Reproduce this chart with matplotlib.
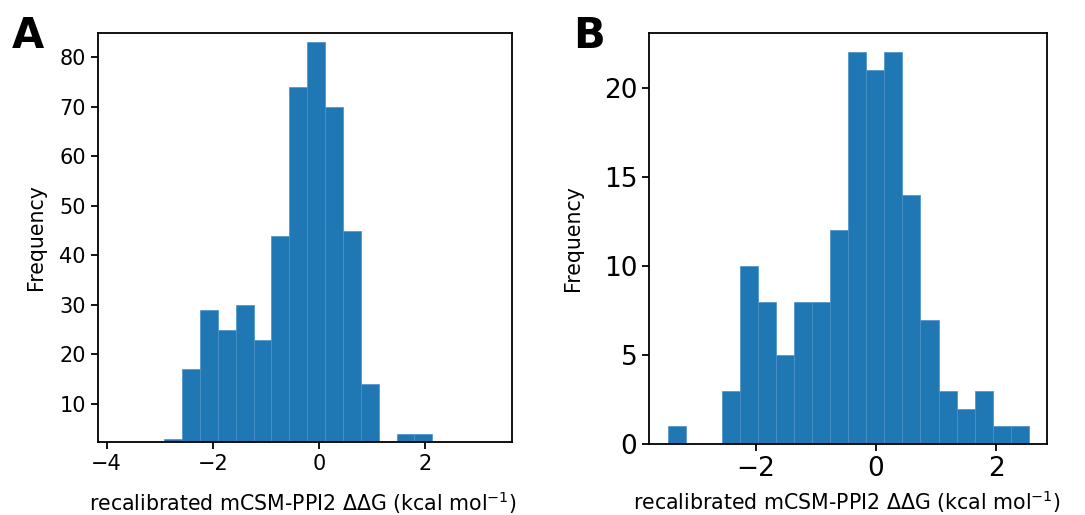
import numpy as np
import matplotlib
matplotlib.use("Agg")
import matplotlib.pyplot as plt

# panel A: visible histogram bins (left edge, width, count)
a_start = -2.916
a_width = 0.3367
a_counts = [3, 17, 29, 25, 30, 23, 44, 74, 83, 70, 45, 14, 0, 4, 4]

# panel B
b_start = -3.47
b_width = 0.3008
b_counts = [1, 0, 0, 3, 10, 8, 5, 8, 8, 12, 22, 21, 22, 14, 7, 3, 2, 3, 1, 1]

xlabel = "recalibrated mCSM-PPI2 \u0394\u0394G (kcal mol$^{-1}$)"
col = "#1f77b4"

fig = plt.figure(figsize=(10.85, 5.15), dpi=100)
axA = fig.add_axes([0.0900, 0.1423, 0.3816, 0.7930])
axB = fig.add_axes([0.5984, 0.1373, 0.3663, 0.7992])

def draw(ax, start, width, counts):
    edges = start + width * np.arange(len(counts) + 1)
    ax.bar(edges[:-1], counts, width=width, align="edge", color=col,
           edgecolor="#4a90c8", linewidth=0.5)
    for s in ax.spines.values():
        s.set_linewidth(1.3)
    ax.tick_params(width=1.3, length=5)

draw(axA, a_start, a_width, a_counts)
axA.set_xlim(-4.17, 3.63)
axA.set_ylim(2.4, 84.8)
axA.set_xticks([-4, -2, 0, 2])
axA.set_yticks([10, 20, 30, 40, 50, 60, 70, 80])
axA.tick_params(labelsize=15)
axA.set_xlabel(xlabel, fontsize=14.8)
axA.set_ylabel("Frequency", fontsize=14.8)
axA.xaxis.set_label_coords(0.497, -0.150)
axA.xaxis.label.set_va("center")
axA.yaxis.set_label_coords(-0.149, 0.5)
axA.yaxis.label.set_va("center")

draw(axB, b_start, b_width, b_counts)
axB.set_xlim(-3.78, 2.845)
axB.set_ylim(0, 23.1)
axB.set_xticks([-2, 0, 2])
axB.set_yticks([0, 5, 10, 15, 20])
axB.tick_params(labelsize=19)
axB.set_xlabel(xlabel, fontsize=14.8)
axB.set_ylabel("Frequency", fontsize=14.8)
axB.xaxis.set_label_coords(0.497, -0.140)
axB.xaxis.label.set_va("center")
axB.yaxis.set_label_coords(-0.192, 0.5)
axB.yaxis.label.set_va("center")

fig.text(0.011, 0.93, "A", fontsize=30, fontweight="bold", va="center", ha="left")
fig.text(0.528, 0.93, "B", fontsize=30, fontweight="bold", va="center", ha="left")

fig.savefig("out.png", dpi=100)
